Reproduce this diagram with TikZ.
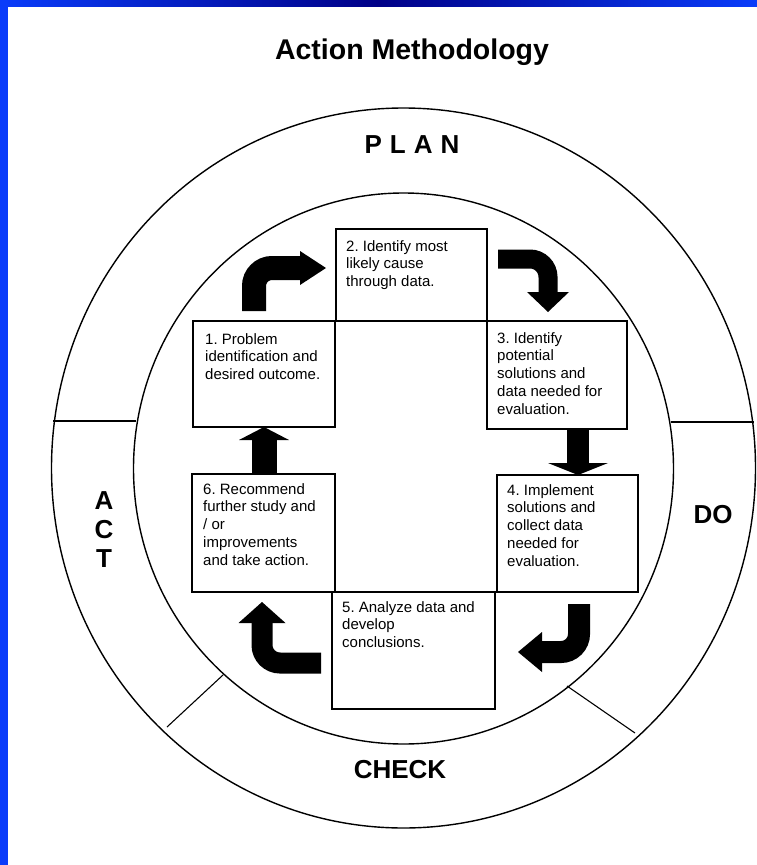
\documentclass[tikz,border=0pt]{standalone}
\usepackage{fontspec}
\setmainfont{Liberation Sans}
\usetikzlibrary{arrows.meta,positioning}
\definecolor{slideblue}{RGB}{10,60,250}
\definecolor{slidenavy}{RGB}{0,0,135}
\tikzset{
	stepbox/.style={draw, line width=1.1pt, inner sep=0pt, outer sep=0pt, anchor=north west},
	steptext/.style={anchor=north west, inner sep=0pt, align=left, font=\fontsize{15}{17.8}\selectfont},
	ringlabel/.style={inner sep=0pt, font=\fontsize{26}{29}\selectfont\bfseries},
	bentarrow/.style={line width=#1, rounded corners=18pt},
	bentarrow/.default=22pt,
}
\newcommand{\headtip}[2]{-{Triangle[length=#1,width=#2,line width=0pt]}}
\frenchspacing
\begin{document}
\begin{tikzpicture}[x=1pt, y=-1pt, line join=miter]
			\useasboundingbox (0,0) rectangle (757,865);
			% slide frame
			\fill[left color=slideblue, right color=slideblue, middle color=slidenavy] (0,0) rectangle (757,6);
			\fill[slideblue] (0,0) rectangle (8,865);
			% title
			\node[font=\fontsize{28.5}{30}\selectfont\bfseries] (title) at (412,52) {Action Methodology};
			% rings
			\draw[line width=1.4pt] (403.5,468) ellipse [x radius=352, y radius=360];
			\draw[line width=1.4pt] (403.5,468.5) ellipse [x radius=270, y radius=275.5];
			\draw[line width=1.1pt] (53,421) -- (136,421);
			\draw[line width=1.1pt] (671,422) -- (754,422);
			\draw[line width=1.1pt] (223,675) -- (167,727);
			\draw[line width=1.1pt] (567,686) -- (635,733);
			\node[ringlabel] (plan) at (412,145) {P\hspace{8pt}L\hspace{8pt}A\hspace{8pt}N};
			\node[ringlabel] (do) at (713,515) {DO};
			\node[ringlabel] (check) at (400,770) {CHECK};
			\node[ringlabel, align=center] (act) at (104,530) {A\\C\\T};
			% boxes
			\node[stepbox, minimum width=151pt, minimum height=92pt] (b2) at (336,229) {};
			\node[stepbox, minimum width=142pt, minimum height=106pt] (b1) at (193,321) {};
			\node[stepbox, minimum width=140pt, minimum height=108pt] (b3) at (487,321) {};
			\node[stepbox, minimum width=143pt, minimum height=118pt] (b6) at (192,474) {};
			\node[stepbox, minimum width=141pt, minimum height=117pt] (b4) at (497,475) {};
			\node[stepbox, minimum width=163pt, minimum height=117pt] (b5) at (332,592) {};
			\node[steptext] (t1) at ([shift={(12,12)}]b1.north west) {1. Problem\\identification and\\desired outcome.};
			\node[steptext] (t2) at ([shift={(10,11)}]b2.north west) {2. Identify most\\likely cause\\through data.};
			\node[steptext] (t3) at ([shift={(10,11)}]b3.north west) {3. Identify\\potential\\solutions and\\data needed for\\evaluation.};
			\node[steptext] (t4) at ([shift={(10,9)}]b4.north west) {4. Implement\\solutions and\\collect data\\needed for\\evaluation.};
			\node[steptext] (t5) at ([shift={(10,9)}]b5.north west) {5. Analyze data and\\develop\\conclusions.};
			\node[steptext] (t6) at ([shift={(11,9)}]b6.north west) {6. Recommend\\further study and\\/ or\\improvements\\and take action.};
			% arrows
			\coordinate (a1s) at (254,311);
			\coordinate (a1e) at (326,268);
			\coordinate (a2s) at (498,259);
			\coordinate (a2e) at (548,312);
			\coordinate (a4s) at (579,604);
			\coordinate (a4e) at (518,652);
			\coordinate (a5s) at (321,663);
			\coordinate (a5e) at (262,602);
			\draw[bentarrow=24pt, \headtip{26pt}{34pt}] (a1s) |- (a1e);
			\draw[bentarrow=19pt, \headtip{20pt}{42pt}] (a2s) -| (a2e);
			\draw[bentarrow=22pt, \headtip{12pt}{60pt}] ([xshift=21pt]b3.south) -- ([xshift=10.5pt]b4.north);
			\draw[bentarrow=22pt, \headtip{24pt}{40pt}] (a4s) |- (a4e);
			\draw[bentarrow=21pt, \headtip{21pt}{47pt}] (a5s) -| (a5e);
			\draw[bentarrow=25pt, \headtip{13pt}{50pt}] ([xshift=0.5pt]b6.north) -- (b1.south);
\end{tikzpicture}
\end{document}
